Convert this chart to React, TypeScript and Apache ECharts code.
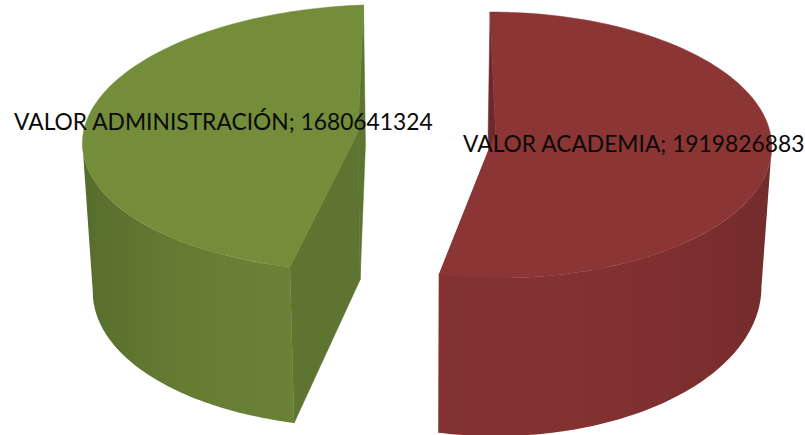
import React, { useEffect, useRef } from "react";
import * as echarts from "echarts";

const categories = ["VALOR ACADEMIA", "VALOR ADMINISTRACIÓN"];
const values = [1919826883, 1680641324];

type Pt = [number, number];

// layout of each exploded slice: where the disc's landmarks project on screen
const layouts = [
  {
    far: [490, 12] as Pt, centre: [495.5, 133] as Pt, cut: [439, 275] as Pt,
    sideAngle: 90, side: [770, 132] as Pt,
    d0: 121, k: 0.136,
    top: "#8b3534", face: "#6e2929", wallNear: "#843131", wallEdge: "#722b2b",
    labelX: 463, labelY: 143,
  },
  {
    far: [363.5, 5] as Pt, centre: [358, 132] as Pt, cut: [290, 267] as Pt,
    sideAngle: 270, side: [83, 135] as Pt,
    d0: 140, k: 0.061,
    top: "#738d3b", face: "#5d7530", wallNear: "#6b8336", wallEdge: "#566c2c",
    labelX: 14, labelY: 121,
  },
];
const vanishX = 428;
const converge = 0.03;

function solve(A: number[][], b: number[]) {
  const n = b.length;
  const M = A.map((r, i) => [...r, b[i]]);
  for (let c = 0; c < n; c++) {
    let p = c;
    for (let r = c + 1; r < n; r++) if (Math.abs(M[r][c]) > Math.abs(M[p][c])) p = r;
    [M[c], M[p]] = [M[p], M[c]];
    for (let r = 0; r < n; r++) {
      if (r === c) continue;
      const f = M[r][c] / M[c][c];
      for (let j = c; j <= n; j++) M[r][j] -= f * M[c][j];
    }
  }
  return M.map((r, i) => r[n] / r[i]);
}

function homography(src: Pt[], dst: Pt[]) {
  const A: number[][] = [];
  const b: number[] = [];
  src.forEach(([u, v], i) => {
    const [x, y] = dst[i];
    A.push([u, v, 1, 0, 0, 0, -u * x, -v * x]);
    b.push(x);
    A.push([0, 0, 0, u, v, 1, -u * y, -v * y]);
    b.push(y);
  });
  const h = solve(A, b);
  return (u: number, v: number): Pt => {
    const w = h[6] * u + h[7] * v + 1;
    return [(h[0] * u + h[1] * v + h[2]) / w, (h[3] * u + h[4] * v + h[5]) / w];
  };
}

const unit = (deg: number): Pt => {
  const a = (deg * Math.PI) / 180;
  return [Math.sin(a), -Math.cos(a)];
};

function mix(a: string, b: string, t: number) {
  const p = (s: string, i: number) => parseInt(s.slice(i, i + 2), 16);
  const c = [1, 3, 5].map((i) => Math.round(p(a, i) + (p(b, i) - p(a, i)) * t));
  return `rgb(${c.join(",")})`;
}

const total = values.reduce((s, v) => s + v, 0);

function renderItem(params: any, api: any) {
  const i = params.dataIndex;
  const L = layouts[i];
  const start = (values.slice(0, i).reduce((s, v) => s + v, 0) / total) * 360;
  const end = start + (api.value(0) / total) * 360;
  const cutAngle = i === 0 ? end : start;
  const farAngle = i === 0 ? start : end;
  const project = homography(
    [unit(farAngle), [0, 0], unit(cutAngle), unit(L.sideAngle)],
    [L.far, L.centre, L.cut, L.side]
  );
  const topAt = (deg: number) => {
    const [u, v] = unit(deg);
    return project(u, v);
  };
  const drop = (p: Pt): Pt => [
    p[0] + (vanishX - p[0]) * converge,
    p[1] + L.d0 + L.k * (p[1] - 5),
  ];
  const children: any[] = [];
  const poly = (points: Pt[], fill: any) =>
    children.push({
      type: "polygon",
      shape: { points },
      style: { fill, stroke: typeof fill === "string" ? fill : "none", lineWidth: 0.5 },
    });

  const centre = project(0, 0);
  // cut faces
  [farAngle, cutAngle].forEach((deg) => {
    const e = topAt(deg);
    poly([centre, e, drop(e), drop(centre)], L.face);
  });

  // curved wall: only the part between the cut and the silhouette is visible
  let edgeAngle = cutAngle;
  for (let s = 0; s <= 360; s++) {
    const deg = start + ((end - start) * s) / 360;
    const x = topAt(deg)[0];
    const best = topAt(edgeAngle)[0];
    if (i === 0 ? x > best : x < best) edgeAngle = deg;
  }
  const M = 90;
  const upper: Pt[] = [];
  const angles: number[] = [];
  for (let s = 0; s <= M; s++) {
    const deg = cutAngle + ((edgeAngle - cutAngle) * s) / M;
    angles.push(deg);
    upper.push(topAt(deg));
  }
  const lower = upper.map(drop).reverse();
  const xs = upper.map((p) => p[0]);
  const minX = Math.min(...xs);
  const maxX = Math.max(...xs);
  const colorStops = angles
    .filter((_, s) => s % 6 === 0)
    .map((deg) => {
      const u = unit(deg)[0];
      return {
        offset: (topAt(deg)[0] - minX) / (maxX - minX),
        color: mix(L.wallNear, L.wallEdge, u * u),
      };
    })
    .sort((a, b) => a.offset - b.offset);
  poly([...upper, ...lower], {
    type: "linear",
    global: true,
    x: minX,
    y: 0,
    x2: maxX,
    y2: 0,
    colorStops,
  });

  // top face
  const outline: Pt[] = [centre];
  for (let s = 0; s <= 120; s++) outline.push(topAt(start + ((end - start) * s) / 120));
  poly(outline, L.top);

  // label
  children.push({
    type: "text",
    x: L.labelX,
    y: L.labelY,
    z2: 100,
    style: {
      text: `${categories[i]}; ${api.value(0)}`,
      fontFamily: "Lato",
      fontSize: 22.8,
      fill: "#0a0a0a",
      align: "left",
      verticalAlign: "middle",
    },
  });
  return { type: "group", children };
}

export default function App() {
  const ref = useRef<HTMLDivElement>(null);
  useEffect(() => {
    document.body.style.margin = "0";
    const chart = echarts.init(ref.current!, undefined, { renderer: "svg" });
    chart.setOption({
      animation: false,
      backgroundColor: "#ffffff",
      series: [
        {
          type: "custom",
          coordinateSystem: "none",
          renderItem,
          data: values.map((v) => [v]),
          silent: true,
        },
      ],
    });
    return () => chart.dispose();
  }, []);
  return <div ref={ref} style={{ width: 805, height: 435 }} />;
}
